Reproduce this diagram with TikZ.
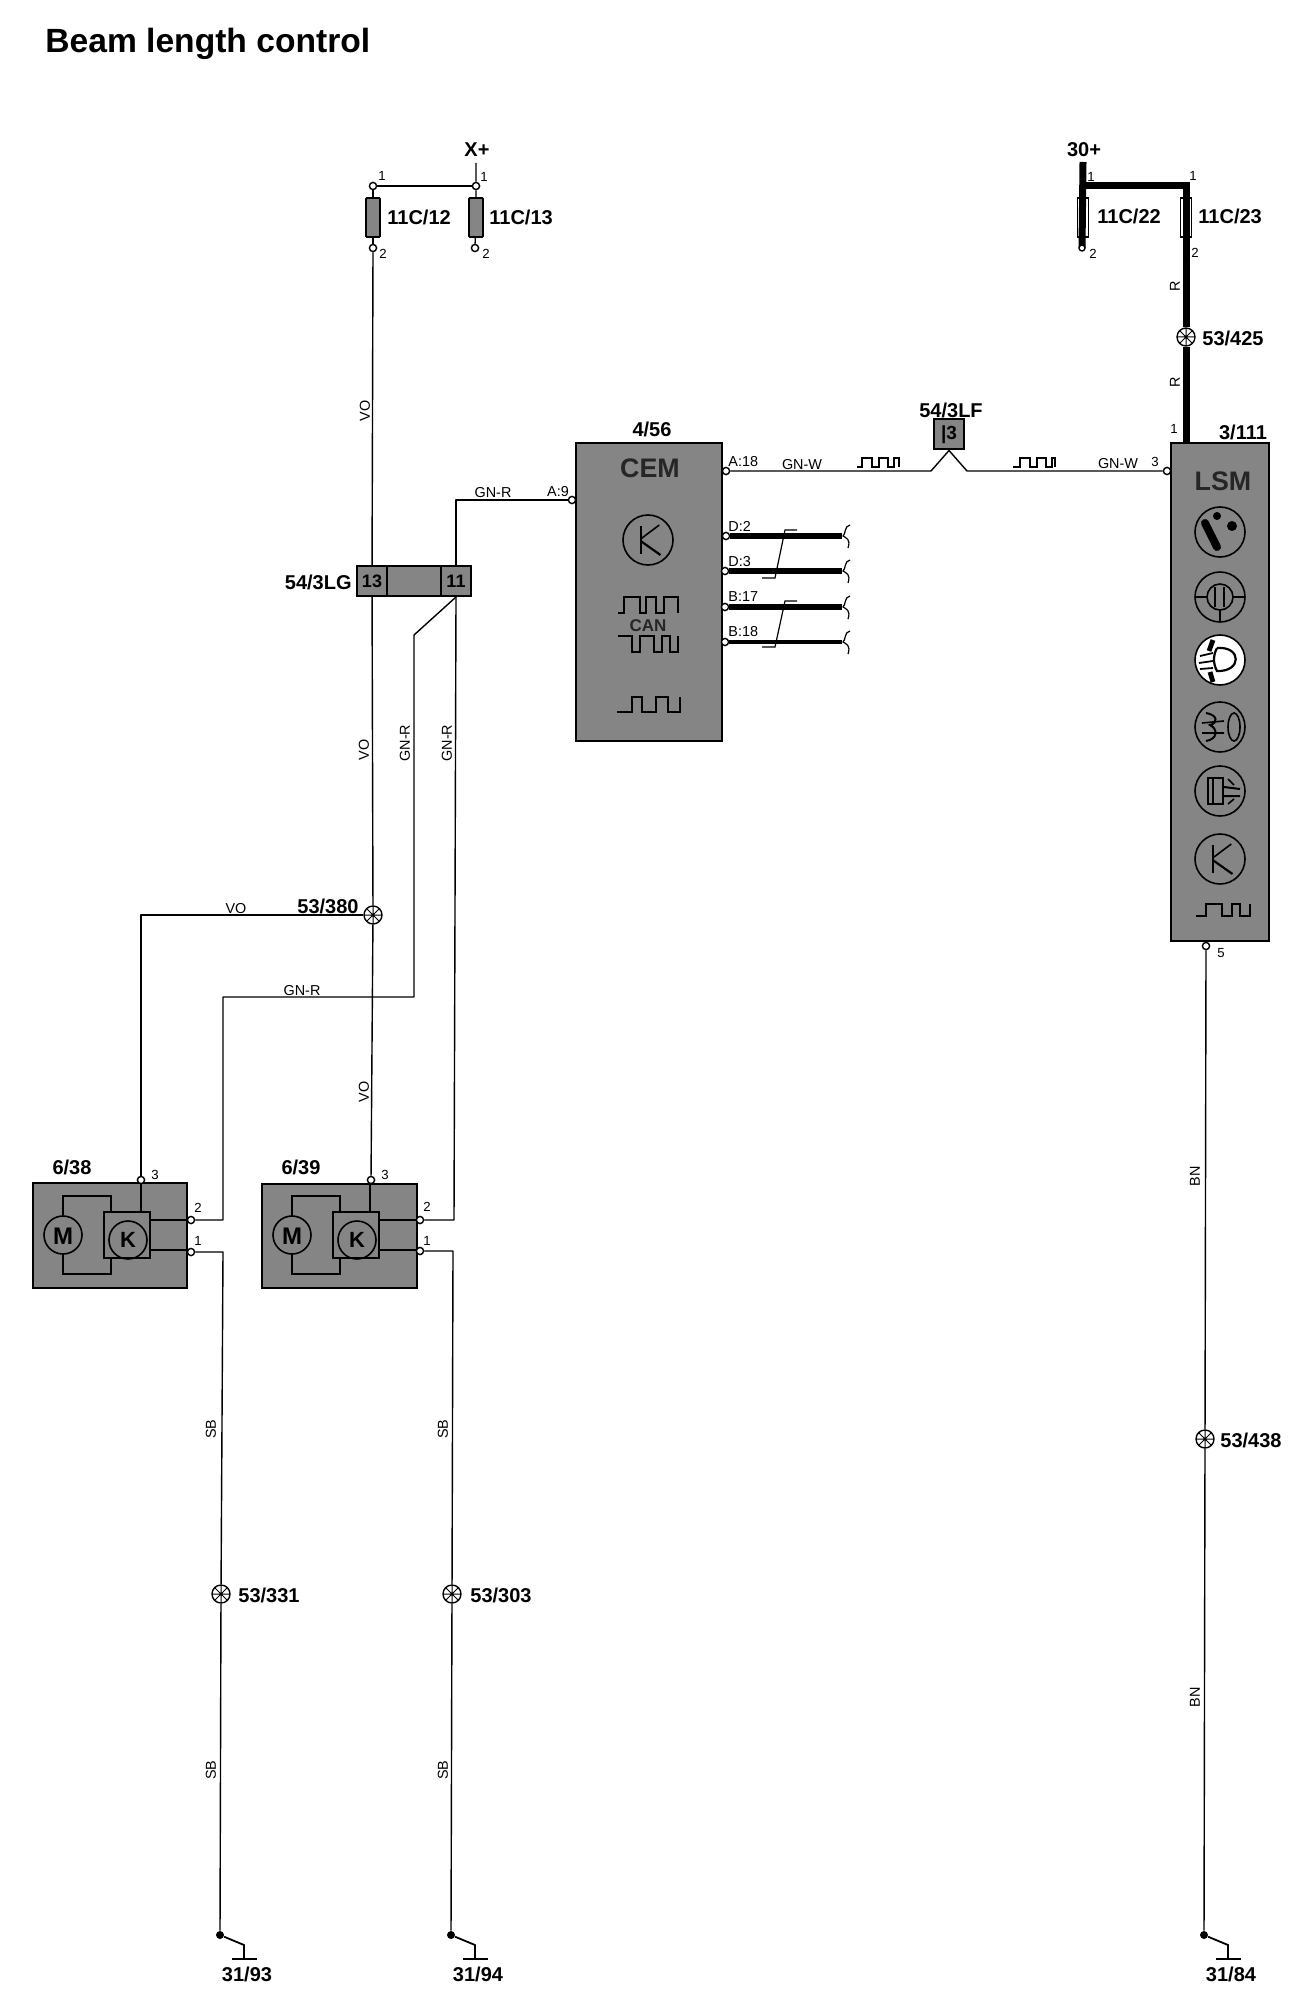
\documentclass[tikz,border=0pt]{standalone}
\usepackage{fontspec}
\setmainfont{Liberation Sans}
\begin{document}
\begin{tikzpicture}[x=0.5pt,y=-0.5pt,
  wire/.style={line width=0.7pt,line join=round},
  heavy/.style={line width=3.5pt,line join=miter},
  term/.style={circle,draw,line width=0.7pt,fill=white,inner sep=0pt,minimum size=3.6pt},
  unit/.style={rectangle,draw=black,line width=1pt,fill=black!48,inner sep=0pt},
  fuse/.style={unit,line width=0.9pt,minimum width=7pt,minimum height=19.5pt,rounded corners=0.5pt},
  wfuse/.style={rectangle,draw=black,line width=0.8pt,fill=white,inner sep=0pt,minimum width=5.6pt,minimum height=19.5pt},
  splice/.style={circle,draw,line width=0.7pt,fill=white,inner sep=0pt,minimum size=9pt,
    path picture={\draw[line width=0.5pt]
      (path picture bounding box.north) -- (path picture bounding box.south)
      (path picture bounding box.east) -- (path picture bounding box.west)
      (path picture bounding box.north west) -- (path picture bounding box.south east)
      (path picture bounding box.north east) -- (path picture bounding box.south west);}},
  gdot/.style={circle,fill=black,inner sep=0pt,minimum size=4pt},
  tag/.style={font=\bfseries\fontsize{10}{11}\selectfont,inner sep=0pt},
  ltag/.style={tag,anchor=west},
  rtag/.style={tag,anchor=east},
  small/.style={font=\fontsize{7.2}{8}\selectfont,inner sep=0pt},
  pin/.style={font=\fontsize{6.6}{8}\selectfont,inner sep=0pt},
  vlabel/.style={small,rotate=90},
  big/.style={font=\fontsize{13.4}{15}\selectfont\bfseries,inner sep=0pt,text=black!85},
  sym/.style={line width=0.8pt,line join=miter},
]
\useasboundingbox (0,0) rectangle (1312,2000);
\newcommand{\gndsym}[3]{%
  \node[gdot] (#1) at (#2,1935) {};
  \coordinate (#1k) at (#2+24,1945);
  \coordinate (#1b) at (#2+24,1959);
  \coordinate (#1l) at (#2+12,1959);
  \coordinate (#1r) at (#2+37,1959);
  \draw[line width=0.9pt] (#1) -- (#1k) -- (#1b);
  \draw[line width=0.7pt] (#1l) -- (#1r);
  \node[tag] at (#2+27,1974) {#3};}
\newcommand{\cutend}[2]{%
  \coordinate (#1) at (842,#2);
  \draw[line width=0.6pt] (850,#2-11) .. controls (844,#2-10) and (846,#2-2) .. (843,#2)
     .. controls (846,#2+2) and (851,#2+3) .. (848,#2+12);}
\newcommand{\tran}[3]{% x y radius
  \draw[sym] (#1,#2) circle[radius=#3];
  \draw[line width=1.1pt] (#1-#3*0.28,#2-#3*0.55) -- (#1-#3*0.28,#2+#3*0.55);
  \draw[sym] (#1-#3*0.28,#2-#3*0.05) -- (#1+#3*0.45,#2-#3*0.6);
  \draw[line width=1.1pt] (#1-#3*0.28,#2+#3*0.05) -- (#1+#3*0.5,#2+#3*0.6);}

% title
\node[font=\bfseries\fontsize{16.8}{20}\selectfont,inner sep=0pt,anchor=west] (title) at (45,44) {Beam length control};

% ---- units ----
\node[unit,minimum width=73pt,minimum height=149pt] (cem) at (649,592) {};
\node[unit,minimum width=49pt,minimum height=249pt] (lsm) at (1219.5,692) {};
\node[unit,minimum width=77pt,minimum height=52.5pt] (mA) at (110,1235.5) {};
\node[unit,minimum width=77.5pt,minimum height=52pt] (mB) at (339.5,1236) {};
\node[unit,minimum width=15pt,minimum height=15pt,font=\fontsize{9.5}{10}\selectfont\bfseries] (lf) at (949,434.5) {|3};
\node[unit,minimum width=15pt,minimum height=15pt,font=\fontsize{9}{10}\selectfont\bfseries] (c13) at (372,581) {13};
\node[unit,minimum width=27pt,minimum height=15pt] (cmid) at (414,581) {};
\node[unit,minimum width=15pt,minimum height=15pt,font=\fontsize{9}{10}\selectfont\bfseries] (c11) at (456,581) {11};

% fuses and supply
\node[fuse] (f12) at (373,217.5) {};
\node[fuse] (f13) at (476,217.5) {};
\node[term] (f12a) at (373,186) {};
\node[term] (f12b) at (373,248) {};
\node[term] (f13a) at (476,186) {};
\node[term] (f13b) at (475,248) {};
\coordinate (xp) at (476,163);
\node[tag] (xplabel) at (477,150) {X+};
\node[wfuse] (f22) at (1083,217.5) {};
\node[wfuse] (f23) at (1186,217.5) {};
\coordinate (sp) at (1083,162);
\coordinate (j22) at (1083,186);
\coordinate (j23) at (1186,186);
\coordinate (e22) at (1082,248);
\node[tag] (splabel) at (1084,150) {30+};

% terminals
\node[term] (a9) at (572,500) {};
\node[term] (a18) at (726,471) {};
\node[term] (d2) at (726,536) {};
\node[term] (d3) at (725,571) {};
\node[term] (b17) at (725,607) {};
\node[term] (b18) at (725,642) {};
\node[term] (l3) at (1167,471) {};
\node[term] (l5) at (1206,946) {};
\node[term] (a3) at (141,1180) {};
\node[term] (a2) at (191,1220) {};
\node[term] (a1) at (191,1252) {};
\node[term] (b3) at (371,1180) {};
\node[term] (b2) at (420,1220) {};
\node[term] (b1) at (420,1251) {};

% splices
\node[splice] (s380) at (373,915) {};
\node[splice] (s425) at (1186,337) {};
\node[splice] (s331) at (221,1594) {};
\node[splice] (s303) at (452,1594) {};
\node[splice] (s438) at (1205,1439) {};

% grounds
\gndsym{ga}{220}{31/93}
\gndsym{gb}{451}{31/94}
\gndsym{gc}{1204}{31/84}

% ---- wires ----
\draw[wire] (xp) -- (f13a) -- (f13) -- (f13b);
\draw[line width=1.3pt] (f12a) -- (f13a);
\draw[wire] (f12a) -- (f12) -- (f12b);
\draw[wire] (f12b) -- (c13);
\draw[wire] (c13) -- (s380);
\draw[wire] (s380) -- (b3);
\coordinate (vA) at (141,915);
\draw[wire] (s380) -- (vA) -- (a3);
\draw[wire] (c11) |- (a9);
\coordinate (d1) at (414,635);
\coordinate (d2a) at (414,997);
\coordinate (d2b) at (223,997);
\coordinate (a2k) at (223,1220);
\draw[wire] (c11.south) -- (d1) -- (d2a) -- (d2b) -- (a2k) -- (a2);
\coordinate (b2k) at (454,1220);
\draw[wire] (c11.south) -- (b2k) -- (b2);
\coordinate (a1k) at (223,1252);
\coordinate (b1k) at (453,1251);
\draw[wire] (a1) -- (a1k) -- (s331);
\draw[wire] (s331) -- (ga);
\draw[wire] (b1) -- (b1k) -- (s303);
\draw[wire] (s303) -- (gb);
\draw[wire] (l5) -- (s438);
\draw[wire] (s438) -- (gc);
\coordinate (k1) at (931,471);
\coordinate (k2) at (967,471);
\draw[wire] (a18) -- (k1) -- (lf.south) -- (k2) -- (l3);

% heavy supply
\draw[heavy] (sp) -- (e22);
\draw[heavy] (j22) -- (j23) -- (s425);
\draw[heavy] (s425) -- (lsm.north -| j23);
\node[term,minimum size=3pt] at (e22) {};

% CEM outputs
\cutend{ed2}{536}
\cutend{ed3}{571}
\cutend{eb17}{607}
\cutend{eb18}{642}
\draw[line width=2.7pt] (d2) -- (ed2);
\draw[line width=3.4pt] (d3) -- (ed3);
\draw[line width=2.9pt] (b17) -- (eb17);
\draw[line width=2pt] (b18) -- (eb18);
\draw[line width=0.6pt] (797,530) -- (785,530) -- (775,578) -- (762,578);
\draw[line width=0.6pt] (797,601) -- (785,601) -- (775,647) -- (762,647);

% CEM contents
\node[big] (cemt) at (650,468) {CEM};
\tran{648}{540}{25}
\node[font=\fontsize{8.5}{10}\selectfont\bfseries,inner sep=0pt,text=black!85] (cant) at (648,626) {CAN};
\draw[sym] (618,613) -- (624,613) -- (624,597) -- (640,597) -- (640,613) -- (646,613) -- (646,597) -- (656,597) -- (656,613) -- (664,613) -- (664,597) -- (678,597) -- (678,613);
\draw[sym] (618,636) -- (632,636) -- (632,652) -- (640,652) -- (640,636) -- (654,636) -- (654,652) -- (662,652) -- (662,636) -- (670,636) -- (670,652) -- (678,652) -- (678,636);
\draw[sym] (617,712) -- (632,712) -- (632,697) -- (642,697) -- (642,712) -- (656,712) -- (656,697) -- (668,697) -- (668,712) -- (680,712) -- (680,697);

% wire pulses
\draw[line width=0.8pt] (857,467) -- (862,467) -- (862,458) -- (872,458) -- (872,467) -- (879,467) -- (879,458) -- (888,458) -- (888,467) -- (894,467) -- (894,458) -- (899,458) -- (899,467);
\draw[line width=0.8pt] (1013,467) -- (1020,467) -- (1020,458) -- (1030,458) -- (1030,467) -- (1037,467) -- (1037,458) -- (1046,458) -- (1046,467) -- (1052,467) -- (1052,458) -- (1055,458) -- (1055,467);

% motor units
\foreach \dx in {0,229}{
 \begin{scope}[shift={(\dx,0)}]
  \draw[sym] (63,1235) circle[radius=19];
  \node[font=\fontsize{12}{13}\selectfont\bfseries,inner sep=0pt] at (63,1236) {M};
  \draw[sym] (104,1212) rectangle (150,1258);
  \draw[sym] (128,1240) circle[radius=19];
  \node[font=\fontsize{11}{13}\selectfont\bfseries,inner sep=0pt] at (128,1240) {K};
  \draw[sym] (63,1216) -- (63,1196) -- (111,1196) -- (111,1212);
  \draw[sym] (63,1254) -- (63,1274) -- (111,1274) -- (111,1258);
  \draw[sym] (141,1183) -- (141,1212);
  \draw[sym] (150,1220) -- (188,1220);
  \draw[sym] (150,1250) -- (188,1250);
 \end{scope}}

% LSM contents
\node[big] (lsmt) at (1223,481) {LSM};
\begin{scope}[shift={(1220,532)}]
  \draw[sym] (0,0) circle[radius=25];
  \draw[line width=4pt,line cap=round] (-15,-9) -- (-3,15);
  \fill (-3,-16) circle[radius=4];
  \fill (12,-6) circle[radius=5];
\end{scope}
\begin{scope}[shift={(1220,597)}]
  \draw[sym] (0,0) circle[radius=25];
  \draw[sym] (0,0) circle[radius=13];
  \draw[sym] (-5,-10) -- (-5,10) (4,-10) -- (4,10);
  \draw[sym] (-25,0) -- (-13,0) (13,0) -- (25,0) (0,13) -- (0,25);
\end{scope}
\begin{scope}[shift={(1220,660)}]
  \draw[sym,fill=white] (0,0) circle[radius=25];
  \draw[line width=1.1pt] (-3,-12) .. controls (22,-14) and (22,12) .. (-3,11) .. controls (-7,4) and (-7,-5) .. (-3,-12);
  \draw[line width=0.9pt] (-20,-4) -- (-7,-7) (-21,3) -- (-7,1) (-20,9) -- (-7,8);
  \draw[line width=2.4pt] (-7,-20) -- (-11,-9) (-10,12) -- (-7,22);
\end{scope}
\begin{scope}[shift={(1220,727)}]
  \draw[sym] (0,0) circle[radius=25];
  \draw[sym] (14,0) ellipse[x radius=6,y radius=14];
  \draw[line width=1pt] (-14,-14) .. controls (-2,-12) and (-2,-4) .. (-10,-2) .. controls (-2,2) and (-2,12) .. (-14,14);
  \draw[sym] (-18,-4) -- (4,-6) (-18,6) -- (4,6);
\end{scope}
\begin{scope}[shift={(1220,791)}]
  \draw[sym] (0,0) circle[radius=25];
  \draw[sym] (-12,-13) rectangle (3,13);
  \draw[sym] (-7,-13) -- (-7,13);
  \draw[line width=1pt] (4,-4) -- (20,-2) (4,5) -- (20,5);
  \draw[sym] (8,-12) -- (14,-6) (8,13) -- (14,8);
\end{scope}
\tran{1220}{859}{25}
\draw[sym] (1196,916) -- (1206,916) -- (1206,904) -- (1222,904) -- (1222,916) -- (1232,916) -- (1232,904) -- (1240,904) -- (1240,916) -- (1250,916) -- (1250,904);

% ---- labels ----
\node[ltag] at (387,217) {11C/12};
\node[ltag] at (489,217) {11C/13};
\node[ltag] at (1097,216) {11C/22};
\node[ltag] at (1198,216) {11C/23};
\node[ltag] at (1202,338) {53/425};
\node[tag] at (1243,432) {3/111};
\node[tag] at (652,429) {4/56};
\node[tag] at (951,410) {54/3LF};
\node[rtag] at (352,582) {54/3LG};
\node[rtag] at (359,906) {53/380};
\node[tag] at (72,1167) {6/38};
\node[tag] at (301,1167) {6/39};
\node[ltag] at (238,1595) {53/331};
\node[ltag] at (470,1595) {53/303};
\node[ltag] at (1220,1440) {53/438};

\node[pin] at (382,176) {1};
\node[pin] at (484,177) {1};
\node[pin] at (383,254) {2};
\node[pin] at (486,254) {2};
\node[pin] at (1091,177) {1};
\node[pin] at (1193,176) {1};
\node[pin] at (1093,254) {2};
\node[pin] at (1195,253) {2};
\node[pin] at (1174,429) {1};
\node[pin] at (1155,462) {3};
\node[pin] at (1221,953) {5};
\node[pin] at (155,1175) {3};
\node[pin] at (198,1208) {2};
\node[pin] at (198,1241) {1};
\node[pin] at (385,1175) {3};
\node[pin] at (427,1207) {2};
\node[pin] at (427,1241) {1};

\node[small,anchor=west] at (728,462) {A:18};
\node[small,anchor=west] at (728,526) {D:2};
\node[small,anchor=west] at (728,562) {D:3};
\node[small,anchor=west] at (728,597) {B:17};
\node[small,anchor=west] at (728,632) {B:18};
\node[small] at (558,492) {A:9};
\node[small] at (493,493) {GN-R};
\node[small] at (802,465) {GN-W};
\node[small] at (1118,464) {GN-W};
\node[small] at (236,909) {VO};
\node[small] at (302,991) {GN-R};
\node[vlabel] at (365,411) {VO};
\node[vlabel] at (364,750) {VO};
\node[vlabel] at (405,743) {GN-R};
\node[vlabel] at (447,743) {GN-R};
\node[vlabel] at (364,1092) {VO};
\node[vlabel] at (211,1429) {SB};
\node[vlabel] at (443,1429) {SB};
\node[vlabel] at (211,1770) {SB};
\node[vlabel] at (443,1770) {SB};
\node[vlabel] at (1195,1176) {BN};
\node[vlabel] at (1195,1697) {BN};
\node[vlabel] at (1175,286) {R};
\node[vlabel] at (1175,382) {R};
\end{tikzpicture}
\end{document}
